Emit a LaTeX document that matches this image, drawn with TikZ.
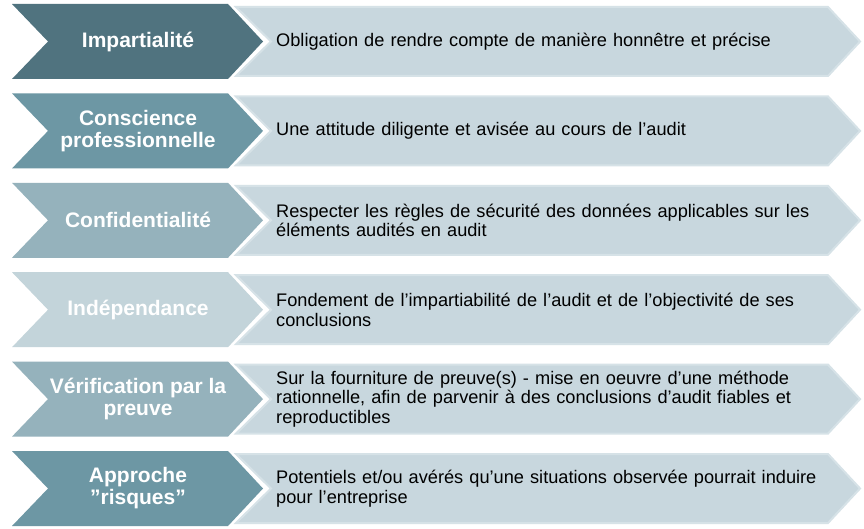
\documentclass[tikz,border=0pt]{standalone}
\usepackage{fontspec}
\setmainfont{Liberation Sans}
\newcommand{\ap}{\char39\relax}
\newcommand{\dq}{\char34\relax}
\definecolor{c1}{HTML}{50737F}
\definecolor{c2}{HTML}{6D97A4}
\definecolor{c3}{HTML}{95B2BC}
\definecolor{c4}{HTML}{C3D4DA}
\definecolor{rf}{HTML}{C8D7DE}
\definecolor{rb}{HTML}{D6E2E7}
\tikzset{
  lbl/.style={text=white,font=\bfseries\fontsize{21}{22}\selectfont,align=center},
  desc/.style={anchor=west,text=black,font=\fontsize{18.2}{19.5}\selectfont,align=left,text width=575pt,inner sep=0pt},
}
\begin{document}
\begin{tikzpicture}[x=1pt,y=-1pt]
\fill[white] (0,0) rectangle (864,529);
\foreach \i/\col/\ltxt/\rtxt in {
 0/c1/{Impartialité}/{Obligation de rendre compte de manière honnêtre et précise},
 1/c2/{Conscience\\professionnelle}/{Une attitude diligente et avisée au cours de l\ap audit},
 2/c3/{Confidentialité}/{Respecter les règles de sécurité des données applicables sur les\\éléments audités en audit},
 3/c4/{Indépendance}/{Fondement de l\ap impartiabilité de l\ap audit et de l\ap objectivité de ses\\conclusions},
 4/c3/{Vérification par la\\preuve}/{Sur la fourniture de preuve(s) - mise en oeuvre d\ap une méthode\\rationnelle, afin de parvenir à des conclusions d\ap audit fiables et\\reproductibles},
 5/c2/{Approche\\\dq risques\dq}/{Potentiels et/ou avérés qu\ap une situations observée pourrait induire\\pour l\ap entreprise}}
{
 \pgfmathsetmacro{\t}{4+89.4*\i}
 \fill[rf,draw=rb,line width=2pt] (236,\t+3) -- (828,\t+3) -- (860,\t+37.5) -- (828,\t+72) -- (236,\t+72) -- (271,\t+37.5) -- cycle;
 \fill[\col] (12,\t) -- (228,\t) -- (263,\t+37.5) -- (228,\t+75) -- (12,\t+75) -- (48,\t+37.5) -- cycle;
 \node[lbl] (l\i) at (138,\t+37.5) {\ltxt};
 \node[desc] (r\i) at (276,\t+37.5) {\rtxt};
}
\end{tikzpicture}
\end{document}
